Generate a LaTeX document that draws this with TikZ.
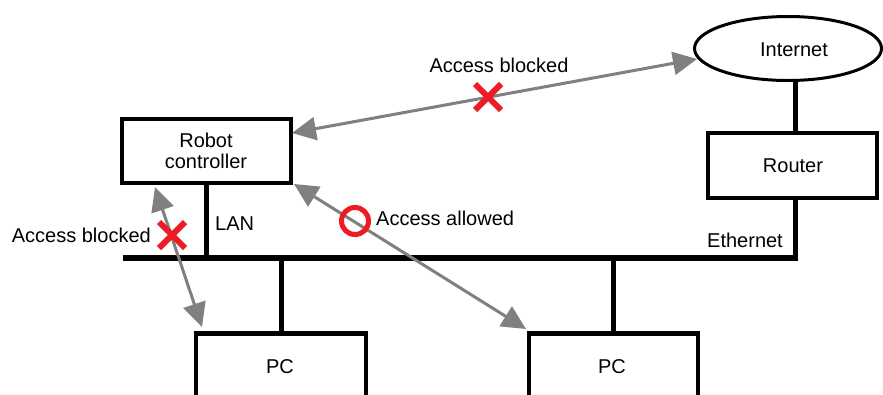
\documentclass[tikz,border=0pt]{standalone}
\usepackage{fontspec}
\setmainfont{Liberation Sans}
\usetikzlibrary{arrows.meta,shapes.geometric}
\definecolor{arrgray}{RGB}{128,128,128}
\definecolor{markred}{RGB}{237,28,36}
\tikzset{
  box/.style={draw=black, line width=4.5pt, fill=white, inner sep=0pt},
  txt/.style={inner sep=0pt, font=\fontsize{20}{21}\selectfont, align=center},
  netline/.style={draw=black, line width=5pt},
  busline/.style={draw=black, line width=6.5pt},
  access/.style={draw=arrgray, line width=3pt, {Triangle[length=24pt,width=23pt]}-{Triangle[length=24pt,width=23pt]}},
  redx/.pic={\draw[markred, line width=6pt] (-13,-13)--(13,13) (-13,13)--(13,-13);},
}
\begin{document}
\begin{tikzpicture}[x=1pt,y=-1pt]
\useasboundingbox (0,0) rectangle (883,394);
\clip (0,0) rectangle (883,394);
\fill[white] (0,0) rectangle (883,394);

% nodes
\node[box, minimum width=169pt, minimum height=64pt] (robot) at (206.5,151) {};
\node[txt] (robottxt) at (206,151) {Robot\\controller};
\node[box, minimum width=169pt, minimum height=65pt] (router) at (792.5,165.5) {};
\node[txt] (routertxt) at (793,165.5) {Router};
\node[draw=black, line width=3pt, ellipse, inner sep=0pt, minimum width=187pt, minimum height=64pt] (inet) at (788,48.5) {};
\node[txt] (inettxt) at (794,50) {Internet};
\node[box, anchor=north, minimum width=170pt, minimum height=100pt] (pc1) at (281,331) {};
\node[txt] (pc1txt) at (280,367) {PC};
\node[box, anchor=north, minimum width=169pt, minimum height=100pt] (pc2) at (613.5,331) {};
\node[txt] (pc2txt) at (612,367) {PC};

% bus
\coordinate (busL) at (123,258);
\coordinate (busR) at (795,258);
\draw[busline] (busL) -- ([xshift=2.5pt]busR);
\draw[netline] (router.south -| busR) -- ([yshift=3.25pt]busR);
\draw[netline] (busR |- inet.south) -- (busR |- router.north);
\draw[netline] (robot.south) -- (robot.south |- busL);
\draw[netline] (pc1.north) -- (pc1.north |- busL);
\draw[netline] (pc2.north) -- (pc2.north |- busL);

% labels
\node[txt, anchor=west] (lan) at (215,224) {LAN};
\node[txt, anchor=east] (eth) at (783,240) {Ethernet};

% access arrows
\coordinate (a1s) at (292,133);
\coordinate (a1e) at (697,59);
\coordinate (a2s) at (294,184);
\coordinate (a2e) at (526,329);
\coordinate (a3s) at (155,187);
\coordinate (a3e) at (202,327);
\draw[access] (a1s) -- (a1e);
\draw[access] (a2s) -- (a2e);
\draw[access] (a3s) -- (a3e);

% marks
\pic at (488,97) {redx};
\pic at (172,235) {redx};
\draw[markred, line width=5pt] (355,221) circle[radius=13.5pt];

\node[txt] (lbl1) at (499,65) {Access blocked};
\node[txt, anchor=east] (lbl2) at (151,235) {Access blocked};
\node[txt, anchor=west] (lbl3) at (376,218.5) {Access allowed};
\end{tikzpicture}
\end{document}
